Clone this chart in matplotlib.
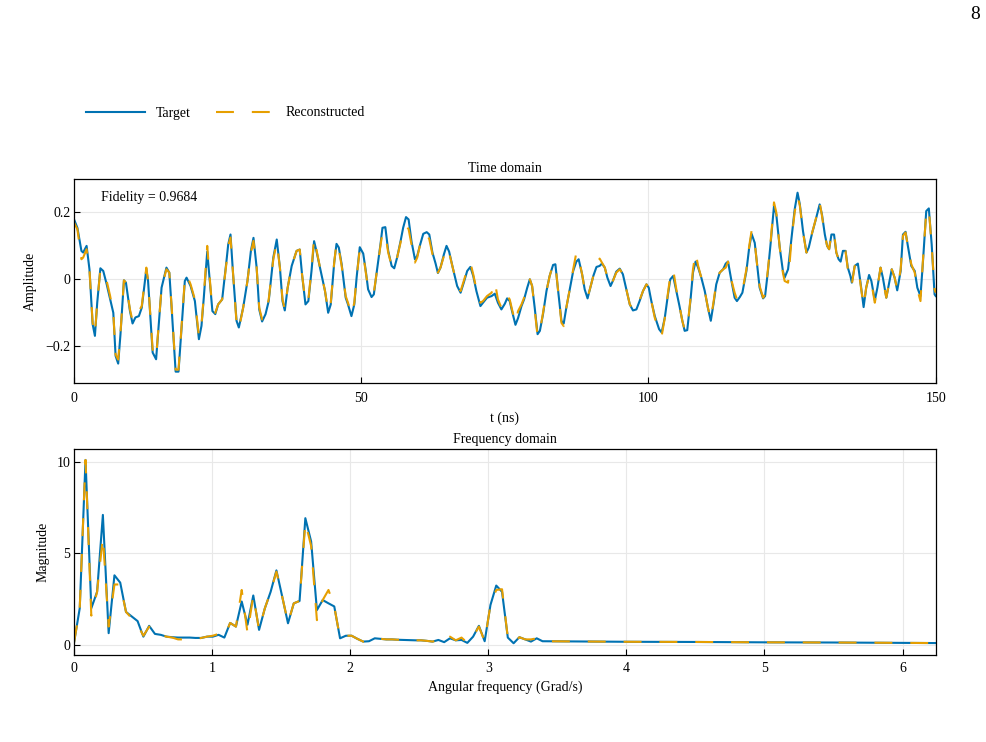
#!/usr/bin/env python

from matplotlib import pyplot as plt
import numpy

plt.rcParams['font.family'] = ['Liberation Serif', 'DejaVu Serif']
plt.rcParams['font.size'] = 10

BLUE = '#0072B2'
ORANGE = '#E69F00'

# time domain (ns, amplitude)
t_ns = [0.0, 0.6, 1.3, 1.6, 2.2, 2.7, 3.25, 3.65, 4.05, 4.6, 5.1, 5.7, 6.3, 6.85, 7.25, 7.7,
        8.1, 8.7, 9.05, 9.75, 10.2, 10.7, 11.3, 11.8, 12.6, 12.9, 13.7, 14.3, 15.25, 16.1,
        16.6, 17.0, 17.7, 18.2, 19.3, 19.6, 20.3, 21.05, 21.75, 22.2, 22.6, 23.2, 23.55,
        24.1, 24.6, 25.1, 25.8, 26.55, 26.85, 27.25, 27.7, 28.3, 28.7, 29.45, 30.2, 30.8,
        31.25, 31.8, 32.25, 32.75, 33.35, 33.9, 34.7, 35.3, 35.85, 36.3, 36.7, 37.2, 37.9,
        38.75, 39.3, 39.7, 40.3, 40.8, 41.35, 41.8, 42.2, 42.95, 43.7, 44.25, 44.7, 45.3,
        45.7, 46.1, 46.6, 47.3, 47.7, 48.3, 48.8, 49.2, 49.75, 50.35, 50.8, 51.2, 51.8,
        52.2, 52.65, 53.35, 53.7, 54.2, 54.7, 55.3, 55.75, 56.25, 56.85, 57.3, 57.8, 58.25,
        58.75, 59.35, 59.75, 60.2, 60.8, 61.4, 61.85, 62.4, 62.95, 63.35, 63.8, 64.4, 64.85,
        65.3, 66.0, 66.7, 67.3, 67.85, 68.45, 69.0, 69.5, 70.05, 70.75, 71.2, 71.9, 72.7,
        73.25, 73.8, 74.4, 75.0, 75.4, 75.85, 76.25, 76.85, 77.3, 77.9, 78.35, 78.9, 79.35,
        79.75, 80.2, 80.7, 81.1, 81.65, 82.25, 82.8, 83.4, 83.8, 84.25, 84.85, 85.25, 85.7,
        86.3, 86.9, 87.45, 87.85, 88.45, 88.9, 89.4, 89.95, 90.4, 90.95, 91.5, 91.9, 92.4,
        92.85, 93.4, 93.85, 94.4, 95.0, 95.55, 96.15, 96.75, 97.3, 97.9, 98.5, 99.05, 99.65,
        100.05, 100.5, 101.1, 101.85, 102.3, 102.85, 103.4, 103.8, 104.3, 104.85, 105.4,
        105.9, 106.3, 106.75, 107.3, 107.75, 108.2, 108.65, 109.2, 109.8, 110.35, 110.85,
        111.35, 111.8, 112.4, 113.0, 113.45, 113.85, 114.45, 115.0, 115.4, 115.9, 116.35,
        117.05, 117.5, 117.95, 118.5, 118.9, 119.35, 119.95, 120.3, 120.8, 121.3, 121.85,
        122.25, 122.85, 123.4, 123.7, 124.3, 124.9, 125.45, 125.95, 126.35, 126.9, 127.5,
        127.9, 128.5, 129.05, 129.5, 129.8, 130.2, 130.7, 131.1, 131.45, 131.85, 132.3,
        132.7, 133.1, 133.45, 133.85, 134.3, 134.7, 135.15, 135.4, 135.9, 136.45, 136.95,
        137.45, 137.9, 138.4, 138.8, 139.4, 139.85, 140.4, 140.8, 141.4, 141.85, 142.35,
        142.85, 143.3, 143.9, 144.3, 144.75, 145.15, 145.75, 146.35, 146.8, 147.35, 147.75,
        148.35, 148.8, 149.3, 149.8, 150.0]

target_amp = [0.18, 0.154, 0.085, 0.08, 0.10, 0.03, -0.134, -0.169, -0.07, 0.033, 0.025, -0.015,
              -0.06, -0.10, -0.229, -0.252, -0.164, -0.003, -0.01, -0.095, -0.132, -0.114,
              -0.11, -0.085, 0.03, -0.005, -0.219, -0.239, -0.025, 0.035, 0.02, -0.085,
              -0.276, -0.276, -0.005, 0.005, -0.02, -0.065, -0.179, -0.139, -0.055, 0.083,
              0.015, -0.095, -0.104, -0.075, -0.06, 0.055, 0.104, 0.134, 0.015, -0.124, -0.144,
              -0.085, -0.005, 0.085, 0.124, 0.035, -0.09, -0.126, -0.104, -0.065, 0.065, 0.119,
              0.035, -0.065, -0.093, -0.025, 0.04, 0.085, 0.089, 0.015, -0.075, -0.065, 0.025,
              0.114, 0.085, 0.025, -0.035, -0.1, -0.075, 0.05, 0.106, 0.095, 0.045, -0.055,
              -0.075, -0.11, -0.075, 0.005, 0.096, 0.077, 0.025, -0.03, -0.053, -0.045, 0.015,
              0.104, 0.154, 0.156, 0.085, 0.04, 0.033, 0.065, 0.114, 0.154, 0.186, 0.179, 0.114,
              0.06, 0.07, 0.1, 0.136, 0.141, 0.134, 0.08, 0.047, 0.019, 0.035, 0.075, 0.1, 0.083,
              0.03, -0.02, -0.04, -0.01, 0.025, 0.037, 0.01, -0.035, -0.08, -0.07, -0.055, -0.05,
              -0.043, -0.07, -0.09, -0.073, -0.057, -0.065, -0.095, -0.136, -0.116, -0.08,
              -0.06, -0.025, 0.0, -0.02, -0.085, -0.164, -0.154, -0.104, -0.035, 0.01, 0.043,
              0.045, -0.03, -0.124, -0.132, -0.085, -0.03, 0.025, 0.053, 0.06, 0.015, -0.03,
              -0.057, -0.02, 0.01, 0.037, 0.04, 0.047, 0.035, 0.005, -0.02, -0.003, 0.023, 0.032,
              0.015, -0.03, -0.075, -0.093, -0.09, -0.063, -0.035, -0.015, -0.025, -0.065, -0.11,
              -0.149, -0.159, -0.114, -0.045, 0.0, 0.01, -0.035, -0.08, -0.124, -0.154, -0.152,
              -0.065, 0.02, 0.053, 0.035, 0.005, -0.035, -0.085, -0.124, -0.07, -0.015, 0.02,
              0.03, 0.047, 0.053, -0.005, -0.055, -0.065, -0.053, -0.04, 0.025, 0.09, 0.136,
              0.109, 0.045, -0.025, -0.057, -0.05, 0.025, 0.114, 0.219, 0.194, 0.095, 0.025,
              0.005, 0.03, 0.124, 0.209, 0.259, 0.224, 0.144, 0.08, 0.095, 0.139, 0.174, 0.204,
              0.224, 0.194, 0.134, 0.1, 0.09, 0.134, 0.134, 0.08, 0.06, 0.053, 0.085, 0.085,
              0.035, 0.01, -0.01, 0.04, 0.047, -0.015, -0.083, -0.025, 0.013, -0.005, -0.063,
              -0.025, 0.035, 0.005, -0.055, -0.015, 0.03, 0.005, -0.033, 0.025, 0.134, 0.142,
              0.1, 0.04, 0.025, -0.025, -0.05, 0.045, 0.204, 0.212, 0.104, -0.045, -0.05]

recon_amp = [0.17, 0.15, 0.06, 0.065, 0.09, 0.03, -0.13, -0.165, -0.07, 0.03, 0.02, -0.005,
             -0.05, -0.10, -0.225, -0.24, -0.16, -0.003, -0.01, -0.09, -0.125, -0.11,
             -0.095, -0.08, 0.035, -0.005, -0.21, -0.235, -0.025, 0.03, 0.02, -0.08,
             -0.27, -0.27, 0.0, 0.015, -0.015, -0.06, -0.17, -0.135, -0.05, 0.1,
             0.02, -0.09, -0.1, -0.075, -0.06, 0.05, 0.1, 0.125, 0.015, -0.13, -0.15,
             -0.085, -0.005, 0.08, 0.115, 0.035, -0.085, -0.12, -0.1, -0.06, 0.06, 0.11,
             0.035, -0.06, -0.09, -0.025, 0.04, 0.085, 0.089, 0.015, -0.07, -0.06, 0.03,
             0.124, 0.09, 0.025, -0.035, -0.095, -0.07, 0.05, 0.11, 0.09, 0.04, -0.05,
             -0.07, -0.105, -0.07, 0.005, 0.09, 0.075, 0.02, -0.025, -0.04, -0.04, 0.015,
             0.1, 0.14, 0.135, 0.08, 0.04, 0.035, 0.065, 0.11, 0.14, 0.16, 0.15, 0.105,
             0.05, 0.065, 0.1, 0.13, 0.135, 0.12, 0.075, 0.045, 0.02, 0.035, 0.07, 0.095, 0.08,
             0.03, -0.015, -0.035, -0.005, 0.03, 0.05, 0.015, -0.03, -0.07, -0.065, -0.05, -0.04,
             -0.007, -0.06, -0.085, -0.05, -0.05, -0.06, -0.09, -0.13, -0.095, -0.075,
             -0.055, -0.025, 0.0, -0.02, -0.09, -0.17, -0.155, -0.1, -0.035, 0.01, 0.045,
             0.045, -0.03, -0.13, -0.14, -0.085, -0.03, 0.03, 0.08, 0.065, 0.015, -0.03,
             -0.055, -0.02, 0.01, 0.04, 0.062, 0.05, 0.035, 0.005, -0.02, -0.003, 0.02, 0.03,
             0.015, -0.03, -0.075, -0.09, -0.09, -0.06, -0.035, -0.015, -0.025, -0.065, -0.115,
             -0.155, -0.169, -0.115, -0.04, 0.01, 0.03, -0.03, -0.08, -0.125, -0.15, -0.15,
             -0.06, 0.03, 0.08, 0.04, 0.005, -0.035, -0.085, -0.12, -0.065, -0.01, 0.02,
             0.03, 0.035, 0.053, -0.003, -0.04, -0.06, -0.05, -0.035, 0.03, 0.095, 0.145,
             0.11, 0.045, -0.02, -0.055, -0.045, 0.03, 0.12, 0.23, 0.2, 0.095, 0.02,
             -0.005, -0.01, 0.12, 0.2, 0.25, 0.22, 0.14, 0.08, 0.095, 0.14, 0.175, 0.205,
             0.23, 0.19, 0.13, 0.1, 0.09, 0.14, 0.14, 0.08, 0.06, 0.055, 0.085, 0.085,
             0.03, 0.0, -0.015, 0.04, 0.045, -0.02, -0.08, -0.025, 0.01, -0.01, -0.07,
             -0.025, 0.035, 0.0, -0.055, -0.015, 0.03, 0.005, -0.03, 0.03, 0.13, 0.14,
             0.1, 0.045, 0.02, -0.03, -0.065, 0.05, 0.2, 0.21, 0.1, -0.03, -0.04]

fidelity = 0.9684

# frequency domain (Grad/s, magnitude)
d_omega = 2*numpy.pi/150
target_mag_low = [0.1, 2.0, 10.1, 2.0, 2.9, 7.1, 0.64, 3.8, 3.4, 1.8, 1.55, 1.3, 0.45, 1.04,
                  0.6, 0.55, 0.45, 0.42, 0.4, 0.4, 0.4, 0.38, 0.38, 0.45, 0.45, 0.55, 0.4,
                  1.2, 1.0, 2.37, 1.1, 2.7, 0.82, 2.0, 2.9, 4.07, 2.64, 1.18, 2.27, 2.4,
                  6.92, 5.65, 1.9, 2.45, 2.27, 2.1, 0.36, 0.5, 0.5, 0.33, 0.18, 0.2, 0.36,
                  0.33, 0.3, 0.3, 0.28, 0.27, 0.26, 0.25, 0.25, 0.22, 0.18, 0.27, 0.15,
                  0.36, 0.25, 0.27, 0.11, 0.45, 1.04, 0.2, 2.18, 3.24, 2.9, 0.4, 0.09, 0.42,
                  0.3, 0.18, 0.36, 0.2]
recon_mag_low = [0.1, 2.0, 10.1, 1.6, 2.9, 5.9, 1.0, 3.3, 3.3, 1.8, 1.45, 1.1, 0.5, 1.0,
                 0.6, 0.55, 0.45, 0.4, 0.3, 0.3, 0.3, 0.3, 0.38, 0.45, 0.5, 0.6, 0.45,
                 1.2, 1.0, 3.0, 0.65, 2.7, 0.82, 2.0, 2.9, 4.0, 2.64, 1.2, 2.27, 2.4,
                 6.7, 5.4, 1.35, 2.45, 3.0, 2.1, 0.36, 0.5, 0.5, 0.33, 0.18, 0.2, 0.36,
                 0.33, 0.3, 0.3, 0.28, 0.35, 0.35, 0.25, 0.25, 0.22, 0.18, 0.27, 0.15,
                 0.45, 0.25, 0.4, 0.11, 0.45, 1.0, 0.2, 2.18, 3.0, 3.04, 0.4, 0.09, 0.42,
                 0.3, 0.3, 0.36, 0.2]
omega_tail = [3.6, 4.0, 4.5, 5.0, 5.5, 6.0, 6.24]
mag_tail = [0.19, 0.17, 0.16, 0.14, 0.13, 0.11, 0.1]

omega = list(numpy.arange(len(target_mag_low))*d_omega) + omega_tail
target_mag = target_mag_low + mag_tail
recon_mag = recon_mag_low + mag_tail

fig = plt.figure(figsize=(9.86, 7.42), dpi=100)
ax1 = fig.add_axes([0.075, 0.4838, 0.874, 0.275])
ax2 = fig.add_axes([0.075, 0.1173, 0.874, 0.2776])

for ax in (ax1, ax2):
    ax.grid(True, color='#e8e8e8', linewidth=0.8)
    ax.set_axisbelow(True)
    ax.tick_params(direction='in', length=4, width=0.8)
    ax.tick_params(axis='y', pad=2.5)
    for s in ax.spines.values():
        s.set_linewidth(0.9)
ax1.tick_params(axis='x', pad=6.5)
ax2.tick_params(axis='x', pad=5)

l1, = ax1.plot(t_ns, target_amp, color=BLUE, lw=1.5, label='Target')
l2, = ax1.plot(t_ns, recon_amp, color=ORANGE, lw=1.5, dashes=(8.6, 8.6), label='Reconstructed')
ax1.set_xlim(0, 150)
ax1.set_ylim(-0.31, 0.30)
ax1.set_xticks([0, 50, 100, 150])
ax1.set_yticks([-0.2, 0, 0.2])
ax1.set_yticklabels(['\u22120.2', '0', '0.2'])
ax1.set_xlabel('t (ns)', labelpad=5)
ax1.set_ylabel('Amplitude', labelpad=6)
ax1.set_title('Time domain', fontsize=10, pad=5)
ax1.text(0.031, 0.91, 'Fidelity = {0:.4f}'.format(fidelity), transform=ax1.transAxes,
         ha='left', va='center')

ax2.plot(omega, target_mag, color=BLUE, lw=1.5)
ax2.plot(omega, recon_mag, color=ORANGE, lw=1.5, dashes=(8.6, 8.6))
ax2.set_xlim(0, 6.24)
ax2.set_ylim(-0.55, 10.7)
ax2.set_xticks(range(7))
ax2.set_yticks([0, 5, 10])
ax2.set_xlabel('Angular frequency (Grad/s)', labelpad=4)
ax2.set_ylabel('Magnitude', labelpad=5)
ax2.set_title('Frequency domain', fontsize=10, pad=4.5)

fig.legend(handles=[l1, l2], loc='center left', bbox_to_anchor=(0.075, 1 - 113/742),
           ncol=2, frameon=False, handlelength=4.2, columnspacing=1.8)
fig.text(0.989, 0.98, '8', ha='center', va='center', fontsize=14)

plt.savefig('out.png', dpi=100)
